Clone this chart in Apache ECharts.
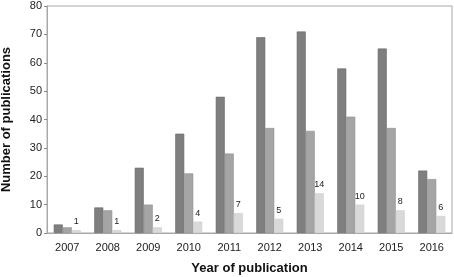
<!DOCTYPE html>
<html>
<head>
<meta charset="utf-8">
<script src="https://cdn.jsdelivr.net/npm/echarts@6/dist/echarts.min.js"></script>
<style>
  html, body { margin: 0; padding: 0; background: #fff; }
  #chart { width: 454px; height: 277px; }
</style>
</head>
<body>
<div id="chart"></div>
<script>
// years and counts per group
const years = ['2007', '2008', '2009', '2010', '2011', '2012', '2013', '2014', '2015', '2016']
const seriesA = [3, 9, 23, 35, 48, 69, 71, 58, 65, 22]
const seriesB = [2, 8, 10, 21, 28, 37, 36, 41, 37, 19]
const seriesC = [1, 1, 2, 4, 7, 5, 14, 10, 8, 6]
const yTicks = [0, 10, 20, 30, 40, 50, 60, 70, 80]

const chart = echarts.init(document.getElementById('chart'))
const font = 'Liberation Sans, Arial, sans-serif'

const bar = (data, color, edge, withLabel) => ({
  type: 'bar',
  data: data,
  barWidth: 9,
  barGap: '0%',
  itemStyle: { color: color, borderColor: edge, borderWidth: 0.6 },
  label: {
    show: withLabel,
    position: 'top',
    distance: 4,
    fontSize: 9,
    fontFamily: font,
    color: '#222'
  }
})

chart.setOption({
  animation: false,
  grid: {
    left: 47, right: 2, top: 6, bottom: 44,
    outerBoundsMode: 'none',
    show: true,
    borderColor: '#a8a8a8',
    borderWidth: 1
  },
  xAxis: {
    type: 'category',
    data: years,
    name: 'Year of publication',
    nameLocation: 'middle',
    nameGap: 29,
    nameTextStyle: { fontSize: 13, fontWeight: 'bold', fontFamily: font, color: '#111' },
    axisLine: { lineStyle: { color: '#a8a8a8' } },
    axisTick: { show: false },
    axisLabel: { fontSize: 11, fontFamily: font, color: '#222', margin: 9 }
  },
  yAxis: {
    type: 'value',
    min: yTicks[0],
    max: yTicks[yTicks.length - 1],
    interval: 10,
    name: 'Number of publications',
    nameLocation: 'middle',
    nameGap: 34,
    nameTextStyle: { fontSize: 13, fontWeight: 'bold', fontFamily: font, color: '#111' },
    axisLine: { show: true, lineStyle: { color: '#a8a8a8' } },
    axisTick: { show: true, length: 3, lineStyle: { color: '#888' } },
    axisLabel: { fontSize: 11, fontFamily: font, color: '#222', margin: 5 },
    splitLine: { show: false }
  },
  series: [
    bar(seriesA, '#7f7f7f', '#666', false),
    bar(seriesB, '#a5a5a5', '#8f8f8f', false),
    bar(seriesC, '#d9d9d9', '#cfcfcf', true)
  ]
})
</script>
</body>
</html>
